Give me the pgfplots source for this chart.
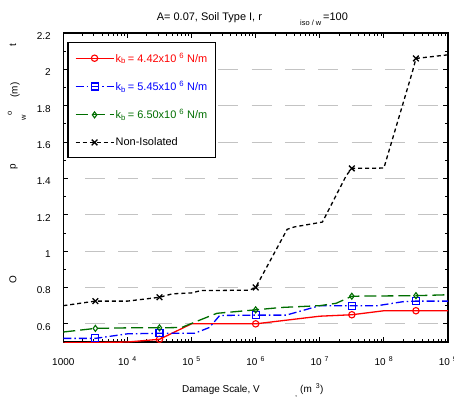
\documentclass[border=0pt]{standalone}
\usepackage{fontspec}
\setmainfont{Liberation Sans}
\usepackage{pgfplots}
\pgfplotsset{compat=1.18}
\definecolor{mred}{RGB}{255,0,0}
\definecolor{mblue}{RGB}{0,0,255}
\definecolor{mgreen}{RGB}{0,110,0}
\definecolor{gridgray}{RGB}{195,195,195}
\begin{document}
\begin{tikzpicture}
\begin{axis}[
  scale only axis, width=384.7bp, height=309bp,
  xmode=log, xmin=1000, xmax=1e9, ymin=0.5, ymax=2.2,
  xtick={1e3,1e4,1e5,1e6,1e7,1e8,1e9},
  xticklabels={1000,10\hspace{3bp}\textsuperscript{4},10\hspace{3bp}\textsuperscript{5},10\hspace{3bp}\textsuperscript{6},10\hspace{3bp}\textsuperscript{7},10\hspace{3bp}\textsuperscript{8},10\hspace{3bp}\textsuperscript{9}},
  minor xtick={2000,3000,4000,5000,6000,7000,8000,9000,
    20000,30000,40000,50000,60000,70000,80000,90000,
    2e5,3e5,4e5,5e5,6e5,7e5,8e5,9e5,
    2e6,3e6,4e6,5e6,6e6,7e6,8e6,9e6,
    2e7,3e7,4e7,5e7,6e7,7e7,8e7,9e7,
    2e8,3e8,4e8,5e8,6e8,7e8,8e8,9e8},
  ytick={0.6,0.8,1,1.2,1.4,1.6,1.8,2,2.2},
  yticklabels={0.6,0.8,1,1.2,1.4,1.6,1.8,2,2.2},
  minor ytick={0.5,0.7,0.9,1.1,1.3,1.5,1.7,1.9,2.1},
  tick align=inside, major tick length=5bp, minor tick length=3bp,
  every tick/.style={black, line width=0.8bp},
  axis line style={line width=1.2bp},
  tick label style={font=\fontsize{10}{12}\selectfont},
  xticklabel style={anchor=base, yshift=-23bp},
  yticklabel style={anchor=east, xshift=-9bp, yshift=-3bp},
  legend style={at={(rel axis cs:0.0104,0.9718)}, anchor=north west,
    draw=black, line width=1.2bp, fill=white,
    font=\fontsize{11}{13}\selectfont,
    inner xsep=7bp, inner ysep=9bp, row sep=14.5bp,
    nodes={inner sep=1.5bp}},
  legend cell align=left,
  legend image code/.code={\draw[#1] plot coordinates {(0bp,0bp) (19bp,0bp) (38bp,0bp)};},
]
\pgfplotsinvokeforeach{0.6,0.8,1.0,1.2,1.4,1.6,1.8,2.0}{
  \draw[gridgray, line width=1bp, dash pattern=on 20bp off 13.3bp] (axis cs:2188,#1) -- (axis cs:1e9,#1);
}
\addplot[mred, line width=1.3bp, mark=o, mark size=3.2bp, mark options={solid,line width=1.1bp}, mark indices={2,4,6,8,10}]
coordinates {(1000,0.495) (3162,0.497) (10000,0.5) (31623,0.515) (100000,0.6) (1000000,0.6) (10000000,0.642) (31622777,0.65) (100000000,0.672) (316227766,0.672) (1000000000,0.672)};
\addlegendentry[text=mred]{k\textsubscript{b}\hspace{2bp}= 4.42x10\hspace{3bp}\textsuperscript{6}\hspace{3bp}N/m}
\addplot[mblue, line width=1.3bp, dash pattern=on 8bp off 3bp on 1.5bp off 3bp, mark=square, mark size=3.5bp, mark options={solid,line width=1.1bp}, mark indices={2,4,8,11,14}]
coordinates {(1000,0.52) (3162,0.52) (10000,0.545) (31623,0.548) (112000,0.548) (190000,0.58) (275000,0.646) (1000000,0.648) (3000000,0.648) (10000000,0.70) (31622777,0.70) (80000000,0.70) (200000000,0.722) (316227766,0.725) (1000000000,0.725)};
\addlegendentry[text=mblue]{k\textsubscript{b}\hspace{2bp}= 5.45x10\hspace{3bp}\textsuperscript{6}\hspace{3bp}N/m}
\addplot[mgreen, line width=1.3bp, dash pattern=on 12bp off 5bp, mark=diamond, mark size=3bp, mark options={solid,line width=1.1bp}, mark indices={2,4,8,12,13}]
coordinates {(1000,0.555) (3162,0.575) (10000,0.578) (31623,0.578) (70000,0.58) (200000,0.645) (250000,0.658) (1000000,0.677) (2500000,0.69) (10000000,0.70) (18000000,0.713) (31622777,0.752) (316227766,0.755) (1000000000,0.76)};
\addlegendentry[text=mgreen]{k\textsubscript{b}\hspace{2bp}= 6.50x10\hspace{3bp}\textsuperscript{6}\hspace{3bp}N/m}
\addplot[black, line width=1.3bp, dash pattern=on 4bp off 3bp, mark=x, mark size=4bp, mark options={solid,line width=1.3bp}, mark indices={2,4,9,14,17}]
coordinates {(1000,0.70) (3162,0.725) (10000,0.725) (31623,0.746) (50000,0.765) (100000,0.77) (140000,0.783) (800000,0.785) (1000000,0.80) (3100000,1.12) (4000000,1.133) (11000000,1.16) (26000000,1.417) (31622777,1.455) (100000000,1.457) (280000000,1.99) (316227766,2.06) (1000000000,2.08)};
\addlegendentry[text=black]{Non-Isolated}
\end{axis}
\begin{scope}[x=1bp,y=-1bp,shift={(-63.3bp,342bp)}]
  % title
  \node[anchor=base west, inner sep=0, font=\fontsize{11}{13}\selectfont] at (156.7,20.5) {A= 0.07, Soil Type I, r};
  \node[anchor=base west, inner sep=0, font=\fontsize{7.5}{9}\selectfont] at (300,25) {iso / w};
  \node[anchor=base west, inner sep=0, font=\fontsize{11}{13}\selectfont] at (323,20.5) {=100};
  % x label
  \node[anchor=base west, inner sep=0, font=\fontsize{10}{12}\selectfont] at (182,392) {Damage Scale, V};
  \node[anchor=base west, inner sep=0, font=\fontsize{7.5}{9}\selectfont] at (295,396) {,};
  \node[anchor=base west, inner sep=0, font=\fontsize{10}{12}\selectfont] at (300,392) {(m\hspace{4bp}\textsuperscript{3})};
  % y label pieces
  \node[rotate=90, inner sep=0, font=\fontsize{10}{12}\selectfont] at (13,280) {O};
  \node[rotate=90, inner sep=0, font=\fontsize{10}{12}\selectfont] at (14,167) {p};
  \node[rotate=90, inner sep=0, font=\fontsize{7.5}{9}\selectfont] at (10,113) {o};
  \node[rotate=90, inner sep=0, font=\fontsize{7.5}{9}\selectfont] at (24,118) {w};
  \node[rotate=90, inner sep=0, font=\fontsize{10}{12}\selectfont] at (15,90) {(m)};
  \node[rotate=90, inner sep=0, font=\fontsize{10}{12}\selectfont] at (13,45) {t};
  \pgfresetboundingbox
  \path[use as bounding box] (0,0) rectangle (454,398);
\end{scope}
\end{tikzpicture}
\end{document}
